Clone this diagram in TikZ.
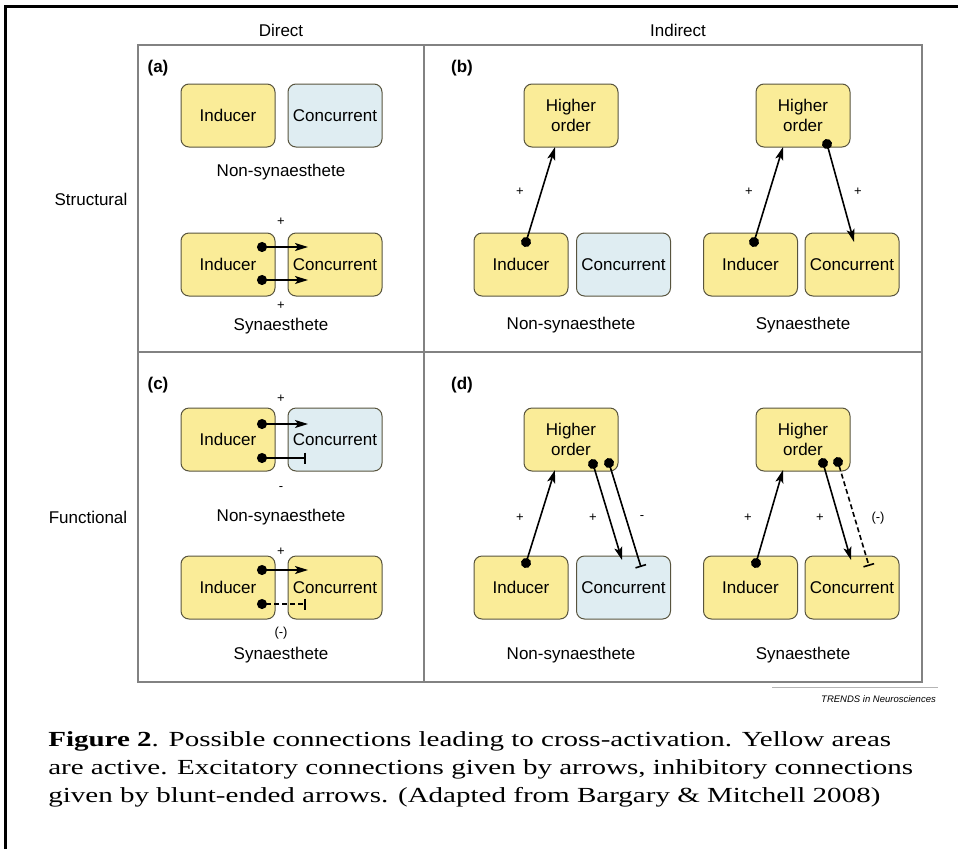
\documentclass[tikz,border=0pt]{standalone}
\usepackage{fontspec}
\setmainfont{Liberation Serif}
\setsansfont{Liberation Sans}
\usetikzlibrary{arrows.meta}

\definecolor{actyellow}{RGB}{250,236,152}
\definecolor{restblue}{RGB}{223,237,242}
\definecolor{boxedge}{RGB}{88,84,62}
\definecolor{gridgray}{RGB}{130,130,130}

\tikzset{
  area/.style={draw=boxedge, line width=1pt, rounded corners=8pt,
    minimum width=94pt, minimum height=63pt, inner sep=0pt, align=center,
    font=\sffamily\fontsize{17}{20}\selectfont},
  active/.style={area, fill=actyellow},
  silent/.style={area, fill=restblue},
  lbl/.style={font=\sffamily\fontsize{17}{20}\selectfont},
  sgn/.style={font=\sffamily\fontsize{13}{14}\selectfont},
  panel/.style={font=\sffamily\bfseries\fontsize{17}{20}\selectfont},
  excite/.style={line width=1.6pt, shorten <=-5pt,
    {Circle[length=10pt]}-{Stealth[length=13pt,width=8pt,inset=3pt]}},
  inhibit/.style={line width=1.6pt, shorten <=-5pt,
    {Circle[length=10pt]}-{Bar[width=11pt]}},
  capline/.style={anchor=base west, inner sep=0pt, xscale=1.35, transform shape,
    font=\fontsize{21.5}{26}\selectfont},
}

\begin{document}
\begin{tikzpicture}[x=1pt, y=-1pt]
\useasboundingbox (0,0) rectangle (958,849);

% Page frame and table grid
\draw[line width=3pt] (5,849) -- (5,6.5) -- (958,6.5);
\draw[gridgray, line width=1.5pt] (138,45) rectangle (922,682);
\draw[gridgray, line width=1.5pt] (424,45) -- (424,682);
\draw[gridgray, line width=1.5pt] (138,352) -- (922,352);

% Row and column headings
\node[lbl] (hDirect) at (281,30) {Direct};
\node[lbl] (hIndirect) at (678,30) {Indirect};
\node[lbl] (hStruct) at (91,199) {Structural};
\node[lbl] (hFunc) at (88,517) {Functional};

% (a) structural, direct
\node[panel] (pa) at (158,68) {(a)};
\node[active] (aInd1) at (228,115.5) {Inducer};
\node[silent] (aCon1) at (335,115.5) {Concurrent};
\node[lbl] (aNon) at (281,172) {Non-synaesthete};
\node[active] (aInd2) at (228,264.5) {Inducer};
\node[active] (aCon2) at (335,264.5) {Concurrent};
\node[sgn] (aP1) at (281,222) {+};
\node[sgn] (aP2) at (281,306) {+};
\node[lbl] (aSyn) at (281,326) {Synaesthete};
\coordinate (a1s) at (262,247); \coordinate (a1e) at (308,247);
\coordinate (a2s) at (262,280); \coordinate (a2e) at (308,280);
\draw[excite] (a1s) -- (a1e);
\draw[excite] (a2s) -- (a2e);

% (b) structural, indirect
\node[panel] (pb) at (462,68) {(b)};
\node[active] (bHigh1) at (571,115.5) {Higher\\order};
\node[active] (bInd1) at (521,264.5) {Inducer};
\node[silent] (bCon1) at (623.5,264.5) {Concurrent};
\node[sgn] (bP1) at (520,192) {+};
\node[lbl] (bNon) at (571,325) {Non-synaesthete};
\node[active] (bHigh2) at (803,115.5) {Higher\\order};
\node[active] (bInd2) at (750.5,264.5) {Inducer};
\node[active] (bCon2) at (852,264.5) {Concurrent};
\node[sgn] (bP2) at (749,192) {+};
\node[sgn] (bP3) at (858,192) {+};
\node[lbl] (bSyn) at (803,325) {Synaesthete};
\coordinate (b1s) at (526,242); \coordinate (b1e) at (555,147);
\coordinate (b2s) at (754,242); \coordinate (b2e) at (783,147);
\coordinate (b3s) at (827,144); \coordinate (b3e) at (854,242);
\draw[excite] (b1s) -- (b1e);
\draw[excite] (b2s) -- (b2e);
\draw[excite] (b3s) -- (b3e);

% (c) functional, direct
\node[panel] (pc) at (158,385) {(c)};
\node[active] (cInd1) at (228,439.5) {Inducer};
\node[silent] (cCon1) at (335,439.5) {Concurrent};
\node[sgn] (cP1) at (281,399) {+};
\node[sgn] (cM1) at (281,489) {-};
\node[lbl] (cNon) at (281,517) {Non-synaesthete};
\node[active] (cInd2) at (228,587.5) {Inducer};
\node[active] (cCon2) at (335,587.5) {Concurrent};
\node[sgn] (cP2) at (281,552) {+};
\node[sgn] (cM2) at (281,633) {(-)};
\node[lbl] (cSyn) at (281,655) {Synaesthete};
\coordinate (c1s) at (262,424); \coordinate (c1e) at (308,424);
\coordinate (c2s) at (262,458); \coordinate (c2e) at (306,458);
\coordinate (c3s) at (262,570); \coordinate (c3e) at (308,570);
\coordinate (c4s) at (262,604); \coordinate (c4e) at (306,604);
\draw[excite] (c1s) -- (c1e);
\draw[inhibit] (c2s) -- (c2e);
\draw[excite] (c3s) -- (c3e);
\draw[inhibit, dash pattern=on 5pt off 3pt] (c4s) -- (c4e);

% (d) functional, indirect
\node[panel] (pd) at (462,385) {(d)};
\node[active] (dHigh1) at (571,439.5) {Higher\\order};
\node[active] (dInd1) at (521,587.5) {Inducer};
\node[silent] (dCon1) at (623.5,587.5) {Concurrent};
\node[sgn] (dP1) at (520,518) {+};
\node[sgn] (dP2) at (593,518) {+};
\node[sgn] (dM1) at (642,518) {-};
\node[lbl] (dNon) at (571,655) {Non-synaesthete};
\node[active] (dHigh2) at (803,439.5) {Higher\\order};
\node[active] (dInd2) at (750.5,587.5) {Inducer};
\node[active] (dCon2) at (852,587.5) {Concurrent};
\node[sgn] (dP3) at (748,518) {+};
\node[sgn] (dP4) at (820,518) {+};
\node[sgn] (dM2) at (878,518) {(-)};
\node[lbl] (dSyn) at (803,655) {Synaesthete};
\coordinate (d1s) at (526,563); \coordinate (d1e) at (555,470);
\coordinate (d2s) at (593,464); \coordinate (d2e) at (622,560);
\coordinate (d3s) at (609,463); \coordinate (d3e) at (641,567);
\coordinate (d4s) at (756,563); \coordinate (d4e) at (783,470);
\coordinate (d5s) at (823,463); \coordinate (d5e) at (851,560);
\coordinate (d6s) at (838,462); \coordinate (d6e) at (869,566);
\draw[excite] (d1s) -- (d1e);
\draw[excite] (d2s) -- (d2e);
\draw[inhibit] (d3s) -- (d3e);
\draw[excite] (d4s) -- (d4e);
\draw[excite] (d5s) -- (d5e);
\draw[inhibit, dash pattern=on 5pt off 3pt] (d6s) -- (d6e);

% Source line
\draw[gridgray!60, line width=0.8pt] (772,687) -- (938,687);
\node[anchor=east, inner sep=0pt, font=\sffamily\itshape\fontsize{9.5}{11}\selectfont] (src) at (936,699) {TRENDS in Neurosciences};

% Caption
\node[capline] (cap1) at (48,746) {\textbf{Figure 2}. Possible connections leading to cross-activation. Yellow areas};
\node[capline] (cap2) at (48,774) {are active. Excitatory connections given by arrows, inhibitory connections};
\node[capline] (cap3) at (48,802) {given by blunt-ended arrows. (Adapted from Bargary \& Mitchell 2008)};
\end{tikzpicture}
\end{document}
